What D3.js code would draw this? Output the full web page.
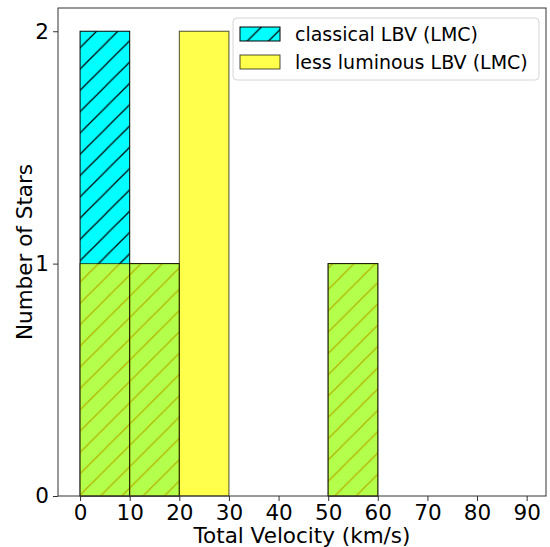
<!DOCTYPE html>
<html>
<head>
<meta charset="utf-8">
<script src="https://cdn.jsdelivr.net/npm/d3@7"></script>
<style>
  body { margin: 0; background: #fff; }
  text { font-family: "DejaVu Sans", sans-serif; fill: #000; }
</style>
</head>
<body>
<script>
// histogram bins (left edges, width 10 km/s)
var binStarts = [0, 10, 20, 30, 40, 50, 60, 70, 80];
var binWidth = 10;
var classicalCounts = [2, 1, 0, 0, 0, 1, 0, 0, 0];
var lessLumCounts = [1, 1, 2, 0, 0, 1, 0, 0, 0];
var xTicks = [0, 10, 20, 30, 40, 50, 60, 70, 80, 90];
var yTicks = [0, 1, 2];
var seriesNames = ['classical LBV (LMC)', 'less luminous LBV (LMC)'];

var width = 550, height = 547;
var margin = {left: 58, top: 8, right: 4, bottom: 51};

var svg = d3.select('body').append('svg')
    .attr('width', width)
    .attr('height', height);

// hatch pattern for the classical bars
var defs = svg.append('defs');
var hs = 21.3;
var pat = defs.append('pattern')
    .attr('id', 'hatch')
    .attr('patternUnits', 'userSpaceOnUse')
    .attr('width', hs)
    .attr('height', hs);
pat.append('rect').attr('width', hs).attr('height', hs).attr('fill', '#00ffff');
pat.append('path')
    .attr('d', 'M0,' + hs + 'L' + hs + ',0 M-2,2 L2,-2 M' + (hs - 2) + ',' + (hs + 2) + 'L' + (hs + 2) + ',' + (hs - 2))
    .attr('stroke', '#000')
    .attr('stroke-width', 1.2);

var x = d3.scaleLinear()
    .domain([-4.45, 93.9])
    .range([margin.left, width - margin.right]);

var y = d3.scaleLinear()
    .domain([0, 2.1])
    .range([height - margin.bottom, margin.top]);

var classical = binStarts.map(function(b, i) { return {x0: b, n: classicalCounts[i]}; })
    .filter(function(d) { return d.n > 0; });
var lessLum = binStarts.map(function(b, i) { return {x0: b, n: lessLumCounts[i]}; })
    .filter(function(d) { return d.n > 0; });

// classical bars
svg.selectAll('.classical')
    .data(classical)
    .enter()
    .append('rect')
    .attr('class', 'classical')
    .attr('x', function(d) { return x(d.x0); })
    .attr('width', function(d) { return x(d.x0 + binWidth) - x(d.x0); })
    .attr('y', function(d) { return y(d.n); })
    .attr('height', function(d) { return y(0) - y(d.n); })
    .attr('fill', 'url(#hatch)')
    .attr('stroke', '#000')
    .attr('stroke-width', 1);

// less luminous bars, semi transparent on top
svg.selectAll('.lesslum')
    .data(lessLum)
    .enter()
    .append('rect')
    .attr('class', 'lesslum')
    .attr('x', function(d) { return x(d.x0); })
    .attr('width', function(d) { return x(d.x0 + binWidth) - x(d.x0); })
    .attr('y', function(d) { return y(d.n); })
    .attr('height', function(d) { return y(0) - y(d.n); })
    .attr('fill', 'rgba(255,255,0,0.7)')
    .attr('stroke', 'rgba(0,0,0,0.7)')
    .attr('stroke-width', 1);

// axes
var xAxis = d3.axisBottom(x).tickValues(xTicks).tickSize(5).tickPadding(4).tickFormat(d3.format('d'));
var yAxis = d3.axisLeft(y).tickValues(yTicks).tickSize(5).tickPadding(4).tickFormat(d3.format('d'));

var gx = svg.append('g')
    .attr('transform', 'translate(0,' + (height - margin.bottom) + ')')
    .call(xAxis);
var gy = svg.append('g')
    .attr('transform', 'translate(' + margin.left + ',0)')
    .call(yAxis);

[gx, gy].forEach(function(g) {
    g.attr('font-size', null).attr('font-family', null);
    g.select('.domain').remove();
    g.selectAll('line').attr('stroke', '#333');
    g.selectAll('text').style('font-size', '21.5px');
});

// frame
svg.append('rect')
    .attr('x', margin.left)
    .attr('y', margin.top)
    .attr('width', width - margin.left - margin.right)
    .attr('height', height - margin.top - margin.bottom)
    .attr('fill', 'none')
    .attr('stroke', '#333')
    .attr('stroke-width', 1);

// axis labels
svg.append('text')
    .attr('x', (margin.left + width - margin.right) / 2)
    .attr('y', 543)
    .attr('text-anchor', 'middle')
    .style('font-size', '21.5px')
    .text('Total Velocity (km/s)');

svg.append('text')
    .attr('transform', 'translate(32,' + ((margin.top + height - margin.bottom) / 2) + ') rotate(-90)')
    .attr('text-anchor', 'middle')
    .style('font-size', '21.5px')
    .text('Number of Stars');

// legend
var legend = svg.append('g').attr('transform', 'translate(233,18)');
legend.append('rect')
    .attr('width', 306)
    .attr('height', 62)
    .attr('rx', 4)
    .attr('fill', 'rgba(255,255,255,0.8)')
    .attr('stroke', '#d6d6d6');

var legendFills = ['url(#hatch)', 'rgba(255,255,0,0.7)'];
var legendStrokes = ['#000', 'rgba(0,0,0,0.7)'];
seriesNames.forEach(function(name, i) {
    var row = legend.append('g').attr('transform', 'translate(7,' + (9 + i * 28) + ')');
    row.append('rect')
        .attr('width', 40)
        .attr('height', 14)
        .attr('fill', legendFills[i])
        .attr('stroke', legendStrokes[i]);
    row.append('text')
        .attr('x', 55)
        .attr('y', 14)
        .style('font-size', '19px')
        .text(name);
});
</script>
</body>
</html>
